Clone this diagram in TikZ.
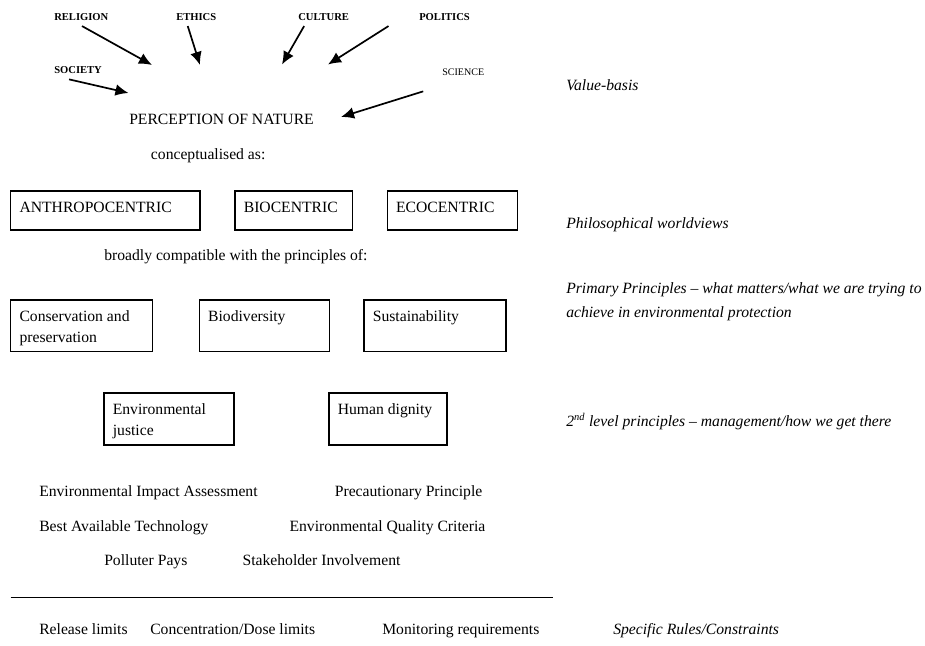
\documentclass[tikz,border=0pt]{standalone}
\usepackage{fontspec}
\setmainfont{Liberation Serif}
\usetikzlibrary{arrows.meta,fit}

\begin{document}
\begin{tikzpicture}[x=0.766pt,y=-0.766pt,
	txt/.style={anchor=base west,inner sep=0pt,font=\fontsize{12}{16}\selectfont},
	small/.style={txt,font=\fontsize{8.1}{10}\selectfont\bfseries},
	side/.style={txt,font=\fontsize{12}{16}\selectfont\itshape},
	box/.style={draw,line width=0.9pt,inner sep=0pt},
	lbl/.style={anchor=north west,inner xsep=7pt,inner ysep=8.5pt,align=left,font=\fontsize{12}{16}\selectfont},
	arr/.style={line width=1.3pt,-{Latex[length=10pt,width=9pt]}}]
	\useasboundingbox (0,0) rectangle (925,646);
	\node[small] (religion) at (54,20.7) {RELIGION};
	\node[small] (ethics) at (176,20.7) {ETHICS};
	\node[small] (culture) at (298,20.7) {CULTURE};
	\node[small] (politics) at (419,20.7) {POLITICS};
	\node[small] (society) at (54,74) {SOCIETY};
	\node[small,font=\fontsize{7.7}{9}\selectfont] (science) at (442,75) {SCIENCE};
	\node[txt] (nature) at (129,125) {PERCEPTION OF NATURE};
	\node[txt] (concept) at (150.7,159.3) {conceptualised as:};
	\coordinate (relend) at (152,65);
	\coordinate (ethend) at (200,65);
	\coordinate (culend) at (282,64.5);
	\coordinate (polend) at (328,64.5);
	\coordinate (socend) at (128.5,93);
	\coordinate (sciend) at (341,117);
	\draw[arr] ([shift={(0.7,5)}]religion.south) -- (relend);
	\draw[arr] ([shift={(-8.5,5)}]ethics.south) -- (ethend);
	\draw[arr] ([shift={(-19.5,5)}]culture.south) -- (culend);
	\draw[arr] ([shift={(-56,5)}]politics.south) -- (polend);
	\draw[arr] ([shift={(-9,5)}]society.south) -- (socend);
	\draw[arr] ([shift={(-40,16)}]science.south) -- (sciend);
	\node[box,fit={(10.7,191) (200,230)},label={[lbl]north west:ANTHROPOCENTRIC}] (anthro) {};
	\node[box,fit={(235,191) (352.7,230)},label={[lbl]north west:BIOCENTRIC}] (bio) {};
	\node[box,fit={(387.3,191) (517.3,230)},label={[lbl]north west:ECOCENTRIC}] (eco) {};
	\node[txt] (compat) at (104,260.7) {broadly compatible with the principles of:};
	\node[box,fit={(10.7,300) (152.7,351.7)},label={[lbl]north west:Conservation and\\preservation}] (conserv) {};
	\node[box,fit={(199.3,300) (329.3,351.7)},label={[lbl]north west:Biodiversity}] (biodiv) {};
	\node[box,fit={(364,300) (506,351.7)},label={[lbl]north west:Sustainability}] (sustain) {};
	\node[box,fit={(104,393) (234,445)},label={[lbl]north west:Environmental\\justice}] (justice) {};
	\node[box,fit={(329,393) (447,445)},label={[lbl]north west:Human dignity}] (dignity) {};
	\node[txt] (eia) at (39,496) {Environmental Impact Assessment};
	\node[txt] (precaution) at (334.6,496) {Precautionary Principle};
	\node[txt] (bat) at (39,531) {Best Available Technology};
	\node[txt] (eqc) at (289.3,531) {Environmental Quality Criteria};
	\node[txt] (polluter) at (104,565) {Polluter Pays};
	\node[txt] (stake) at (242.3,565) {Stakeholder Involvement};
	\draw[line width=1.2pt] (10.7,597.7) -- (553,597.7);
	\node[txt] (release) at (39,634.3) {Release limits};
	\node[txt] (dose) at (150,634.3) {Concentration/Dose limits};
	\node[txt] (monitor) at (382,634.3) {Monitoring requirements};
	\node[side] (valuebasis) at (566,90.7) {Value-basis};
	\node[side] (worldviews) at (566,228) {Philosophical worldviews};
	\node[side] (primary) at (566,293) {Primary Principles -- what matters/what we are trying to};
	\node[side] (primary2) at (566,317) {achieve in environmental protection};
	\node[side] (second) at (566,426) {2\textsuperscript{nd} level principles -- management/how we get there};
	\node[side] (rules) at (613,634.3) {Specific Rules/Constraints};
\end{tikzpicture}
\end{document}
